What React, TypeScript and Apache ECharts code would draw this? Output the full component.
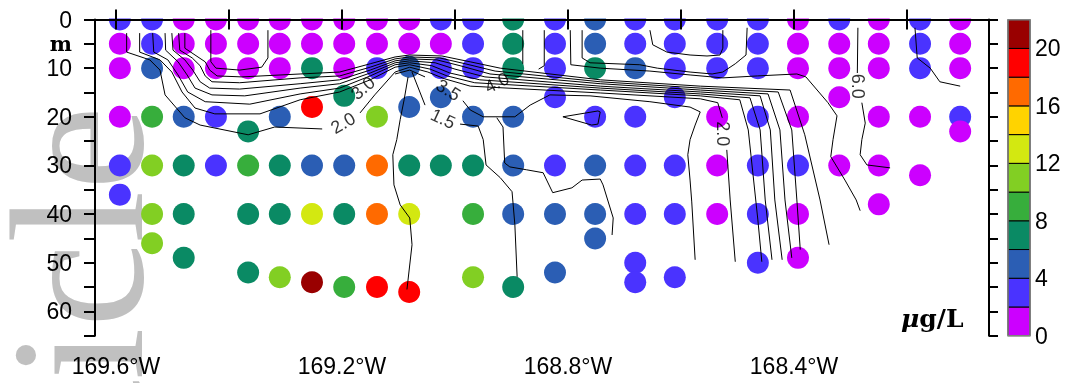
import React, { useEffect, useRef } from 'react';
import * as echarts from 'echarts';

// station longitudes (deg, negative = W)
const colLon = [
  -169.593, -169.536, -169.48, -169.423, -169.366, -169.31, -169.253, -169.196,
  -169.138, -169.081, -169.025, -168.968, -168.897, -168.823, -168.752, -168.681,
  -168.611, -168.536, -168.464, -168.393, -168.32, -168.25, -168.177, -168.106,
];

// [depth m, chlorophyll ug/L] per station
const colDots: number[][][] = [
  [[0, 3], [5, 1], [10, 1], [20, 1], [30, 3], [36, 3]],
  [[0, 3], [5, 3], [10, 5], [20, 9], [30, 11], [40, 11], [46, 11]],
  [[0, 1], [5, 1], [10, 1], [20, 5], [30, 7], [40, 7], [49, 7]],
  [[0, 1], [5, 1], [10, 1], [20, 3], [30, 3]],
  [[0, 1], [5, 1], [10, 1], [23, 7], [30, 9], [40, 7], [52, 7]],
  [[0, 1], [5, 1], [10, 1], [20, 5], [30, 7], [40, 7], [53, 11]],
  [[0, 1], [5, 1], [10, 7], [18, 19], [30, 5], [40, 13], [54, 21]],
  [[0, 1], [5, 1], [10, 1], [15.7, 7], [30, 5], [40, 7], [55, 9]],
  [[0, 1], [5, 1], [10, 3], [20, 11], [30, 17], [40, 17], [55, 19]],
  [[0, 1], [5, 1], [9.7, 5], [18, 5], [30, 7], [40, 13], [56, 19]],
  [[0, 3], [5, 1], [10, 3], [16, 5], [30, 7]],
  [[0, 3], [5, 3], [10, 3], [20, 5], [30, 7], [40, 9], [53, 11]],
  [[0, 7], [5, 7], [10, 7], [20, 5], [30, 5], [40, 5], [55, 7]],
  [[0, 3], [5, 3], [10, 3], [16, 3], [30, 3], [40, 5], [52, 5]],
  [[0, 5], [5, 5], [10, 7], [20, 3], [30, 5], [40, 5], [45, 5]],
  [[0, 3], [5, 3], [10, 5], [20, 3], [30, 3], [40, 3], [50, 3], [54, 3]],
  [[0, 3], [5, 3], [10, 3], [16, 3], [30, 3], [40, 3], [53, 3]],
  [[0, 3], [5, 3], [10, 3], [20, 1], [30, 1], [40, 1]],
  [[0, 3], [5, 3], [10, 3], [20, 3], [30, 3], [40, 3], [50, 3]],
  [[0, 1], [5, 1], [10, 1], [20, 1], [30, 3], [40, 1], [49, 1]],
  [[0, 3], [5, 1], [10, 1], [16, 1], [30, 1]],
  [[0, 1], [5, 1], [10, 1], [20, 1], [30, 1], [38, 1]],
  [[0, 3], [5, 3], [10, 3], [20, 1], [32, 1]],
  [[0, 1], [5, 1], [10, 1], [20, 3], [23, 1]],
];

const binColors = [
  '#CC00FF', '#4A33FF', '#2B5EB4', '#0A8A64', '#37AE3C', '#82CF23',
  '#D3E811', '#FFD300', '#FF6A00', '#FF0000', '#990000',
];
const binLows = [0, 2, 4, 6, 8, 10, 12, 14, 16, 18, 20];
const binStep = 2;
const colorbarLabels = [0, 4, 8, 12, 16, 20];

const lonTicks = [-169.6, -169.4, -169.2, -169.0, -168.8, -168.6, -168.4, -168.2];
const lonLabels = [-169.6, -169.2, -168.8, -168.4];

// contour polylines [lon, depth]
const contours: number[][][] = [
  [[-169.581, 2.8], [-169.581, 6.7], [-169.54, 8.3], [-169.522, 10.4], [-169.513, 15.5], [-169.478, 20.2], [-169.451, 21.7], [-169.366, 23.7], [-169.319, 22.1], [-169.235, 22.5]],
  [[-169.168, 19.2], [-169.142, 15.5], [-169.106, 10.8], [-169.08, 9.8], [-169.048, 10.8], [-169.018, 12.2], [-168.973, 13.7], [-168.743, 15.1], [-168.566, 16.3], [-168.535, 17.1], [-168.527, 20.2]],
  [[-168.519, 26.8], [-168.513, 37.1], [-168.504, 49.8]],
  [[-169.106, 11.2], [-169.08, 10.4], [-169.053, 11.8]],
  [[-168.986, 16.7], [-168.973, 18.6], [-168.95, 20.0], [-168.894, 20.0], [-168.867, 17.6], [-168.832, 15.5], [-168.761, 15.7], [-168.655, 16.9], [-168.584, 18.0], [-168.566, 19.0], [-168.575, 21.7], [-168.584, 24.7], [-168.588, 27.8], [-168.584, 33.0], [-168.581, 37.5], [-168.575, 49.4]],
  [[-169.558, 2.8], [-169.558, 6.7], [-169.522, 8.3], [-169.501, 10.8], [-169.483, 14.9], [-169.46, 18.2], [-169.425, 19.4], [-169.345, 19.4], [-169.274, 16.5], [-169.204, 14.9], [-169.15, 12.4], [-169.106, 9.8], [-169.08, 9.3], [-169.044, 10.2], [-169.014, 11.6], [-168.965, 13.0], [-168.743, 14.5], [-168.566, 15.7], [-168.496, 16.5], [-168.481, 22.7], [-168.464, 41.2], [-168.457, 49.8]],
  [[-169.535, 2.8], [-169.533, 6.7], [-169.508, 8.3], [-169.49, 11.4], [-169.473, 14.9], [-169.442, 16.9], [-169.363, 17.4], [-169.274, 15.3], [-169.204, 14.1], [-169.15, 11.6], [-169.106, 9.3], [-169.08, 8.9], [-169.041, 9.5], [-169.009, 11.0], [-168.956, 12.4], [-168.743, 14.1], [-168.566, 15.3], [-168.478, 16.1], [-168.46, 22.7], [-168.451, 37.1], [-168.439, 49.4]],
  [[-169.513, 2.8], [-169.512, 6.3], [-169.49, 8.7], [-169.474, 11.4], [-169.46, 14.1], [-169.43, 15.5], [-169.372, 15.7], [-169.274, 14.1], [-169.204, 13.2], [-169.15, 11.0], [-169.106, 8.9], [-169.08, 8.5], [-169.035, 8.9], [-169.0, 10.2], [-168.947, 11.8], [-168.743, 13.7], [-168.566, 14.9], [-168.46, 15.7], [-168.442, 22.7], [-168.434, 37.1], [-168.421, 49.4]],
  [[-169.501, 2.8], [-169.499, 6.3], [-169.478, 8.3], [-169.464, 10.4], [-169.451, 12.8], [-169.434, 14.1], [-169.381, 14.3], [-169.274, 13.2], [-169.204, 12.4], [-169.15, 10.4], [-169.106, 8.5], [-169.08, 8.1], [-169.032, 8.3], [-168.991, 9.5], [-168.938, 11.2], [-168.743, 13.2], [-168.566, 14.5], [-168.446, 15.3], [-168.425, 22.7], [-168.416, 37.1], [-168.404, 49.0]],
  [[-169.489, 2.8], [-169.487, 6.3], [-169.465, 7.9], [-169.451, 9.5], [-169.442, 11.6], [-169.43, 12.8], [-169.381, 13.0], [-169.274, 12.0], [-169.204, 11.6], [-169.15, 9.8], [-169.106, 8.1], [-169.08, 7.7], [-169.027, 7.9], [-168.982, 9.1], [-168.929, 10.6], [-168.743, 12.8], [-168.566, 14.1], [-168.428, 14.9], [-168.404, 22.7], [-168.395, 37.1], [-168.389, 47.3]],
  [[-169.478, 2.8], [-169.478, 5.9], [-169.46, 7.3], [-169.442, 8.7], [-169.434, 10.4], [-169.421, 11.6], [-169.377, 11.8], [-169.274, 11.2], [-169.204, 10.8], [-169.15, 9.1], [-169.106, 7.7], [-169.08, 7.3], [-169.023, 7.5], [-168.973, 8.7], [-168.92, 10.0], [-168.743, 12.4], [-168.566, 13.7], [-168.407, 14.5], [-168.381, 23.7], [-168.354, 37.1], [-168.338, 46.3]],
  [[-169.432, 2.2], [-169.432, 8.7], [-169.423, 10.0], [-169.381, 10.4], [-169.342, 9.8], [-169.331, 7.9], [-169.331, 2.2]],
  [[-169.083, 11.8], [-169.09, 16.5], [-169.097, 20.6], [-169.103, 24.7], [-169.11, 27.8], [-169.108, 34.0], [-169.097, 38.1], [-169.08, 40.8], [-169.076, 46.3], [-169.085, 55.5]],
  [[-169.076, 10.8], [-169.053, 17.6]],
  [[-168.991, 21.5], [-168.959, 21.9], [-168.95, 24.7], [-168.945, 29.9], [-168.92, 32.5], [-168.899, 35.4], [-168.894, 42.2], [-168.89, 52.9]],
  [[-168.926, 20.2], [-168.915, 22.1], [-168.912, 29.5], [-168.903, 30.3], [-168.873, 30.9], [-168.844, 31.5], [-168.827, 35.6], [-168.793, 34.6], [-168.775, 33.0], [-168.743, 32.8], [-168.738, 34.0], [-168.72, 40.8], [-168.722, 44.3]],
  [[-168.809, 20.0], [-168.747, 18.8], [-168.743, 19.0], [-168.747, 21.5], [-168.758, 21.7], [-168.809, 20.0]],
  [[-168.655, 2.2], [-168.65, 5.2], [-168.625, 6.7], [-168.584, 7.3], [-168.554, 7.5], [-168.531, 7.3], [-168.526, 5.9], [-168.526, 2.2]],
  [[-168.483, 1.7], [-168.485, 7.3], [-168.504, 9.1], [-168.526, 10.8], [-168.545, 11.2], [-168.584, 10.8], [-168.642, 10.0], [-168.673, 9.3], [-168.761, 8.9], [-168.775, 7.9], [-168.775, 2.2]],
  [[-168.796, 2.2], [-168.795, 9.3], [-168.743, 10.0], [-168.655, 10.6], [-168.584, 11.4], [-168.526, 12.0], [-168.465, 11.6], [-168.395, 11.2], [-168.379, 11.8], [-168.34, 17.1], [-168.324, 19.8], [-168.331, 24.7], [-168.335, 28.2], [-168.31, 33.0], [-168.29, 37.1], [-168.283, 39.3]],
  [[-168.287, 1.7], [-168.288, 11.0]],
  [[-168.28, 17.1], [-168.274, 21.3], [-168.28, 24.7], [-168.283, 27.8], [-168.271, 29.9], [-168.23, 30.5]],
  [[-168.186, 1.7], [-168.182, 7.9], [-168.159, 10.0], [-168.142, 12.8], [-168.106, 13.7]],
  [[-168.88, 2.2], [-168.88, 9.1]],
  [[-168.842, 2.2], [-168.842, 9.5], [-168.852, 10.2]],
];

const contourLabelLon = [-169.198, -169.163, -169.012, -169.021, -168.926, -168.526, -168.287];
const contourLabelDepth = [21.3, 14.1, 14.5, 20.4, 13.0, 23.5, 13.7];
const contourLabelText = ['2.0', '3.0', '3.5', '1.5', '4.0', '2.0', '6.0'];
const contourLabelRot = [30, 40, -32, -25, 27, -90, -90];

export default function App() {
  const ref = useRef<HTMLDivElement>(null);
  useEffect(() => {
    const chart = echarts.init(ref.current!, null, { renderer: 'svg' });
    const points: number[][] = [];
    colLon.forEach((lon, i) => colDots[i].forEach(([d, v]) => points.push([lon, d, v])));
    const axisLine = { show: true, lineStyle: { color: '#000', width: 2 } };
    const sans = 'Liberation Sans';
    const option: any = {
      animation: false,
      grid: [
        { left: 95, right: 79, top: 19.5, bottom: 47.3 },
        { left: 1008, width: 22, top: 19.7, bottom: 47.3 },
      ],
      xAxis: [
        {
          gridIndex: 0, type: 'value', min: -169.637, max: -168.055, position: 'bottom', z: 10,
          axisLine, splitLine: { show: false },
          axisTick: { show: true, customValues: lonTicks, length: 10, lineStyle: { color: '#000', width: 2 } },
          axisLabel: {
            customValues: lonLabels, margin: 19, color: '#000', fontFamily: sans, fontSize: 23,
            formatter: (v: number) => `${Math.abs(v).toFixed(1)}°W`,
          },
        },
        {
          gridIndex: 0, type: 'value', min: -169.637, max: -168.055, position: 'top', z: 10,
          axisLine, splitLine: { show: false },
          axisTick: { show: true, customValues: lonTicks, length: 10, lineStyle: { color: '#000', width: 2 } },
          axisLabel: { show: false },
        },
        { gridIndex: 1, type: 'value', min: 0, max: 1, show: false },
      ],
      yAxis: [
        {
          gridIndex: 0, type: 'value', inverse: true, min: 0, max: 65, interval: 5, position: 'left', z: 10,
          axisLine, splitLine: { show: false },
          axisTick: { show: true, length: 11, lineStyle: { color: '#000', width: 2 } },
          axisLabel: {
            margin: 23, color: '#000', fontFamily: sans, fontSize: 23,
            formatter: (v: number) => (v === 5 ? '{m|m}' : v % 10 === 0 && v <= 60 ? String(v) : ''),
            rich: { m: { fontFamily: 'DejaVu Serif', fontWeight: 'bold', fontSize: 21, color: '#000' } },
          },
        },
        {
          gridIndex: 0, type: 'value', inverse: true, min: 0, max: 65, interval: 5, position: 'right', z: 10,
          axisLine, splitLine: { show: false },
          axisTick: { show: true, length: 9, lineStyle: { color: '#000', width: 2 } },
          axisLabel: { show: false },
        },
        {
          gridIndex: 1, type: 'value', min: 0, max: 22, position: 'right',
          axisLine: { show: false }, axisTick: { show: false }, splitLine: { show: false },
          axisLabel: { customValues: colorbarLabels, margin: 5, color: '#000', fontFamily: sans, fontSize: 23 },
        },
      ],
      graphic: [
        {
          type: 'text', x: 78, y: 106, rotation: Math.PI / 2, z: -1, silent: true,
          style: {
            text: 'Article', fill: '#C0C0C0', fontSize: 190, fontFamily: 'Liberation Serif',
            fontWeight: 'normal',
            textAlign: 'right', textVerticalAlign: 'middle', align: 'right', verticalAlign: 'middle',
          },
        },
        { type: 'rect', z: 3, silent: true, shape: { x: 90, y: 0, width: 905, height: 18.5 }, style: { fill: '#fff' } },
        {
          type: 'text', x: 901, y: 318, z: 6, silent: true,
          style: {
            text: '{mu|μ}{t|g/L}', verticalAlign: 'middle', textVerticalAlign: 'middle',
            rich: {
              mu: { fontFamily: 'DejaVu Serif', fontStyle: 'italic', fontWeight: 'bold', fontSize: 25, fill: '#000', color: '#000' },
              t: { fontFamily: 'DejaVu Serif', fontWeight: 'bold', fontSize: 25, fill: '#000', color: '#000' },
            },
          },
        },
      ],
      series: [
        {
          type: 'scatter', xAxisIndex: 0, yAxisIndex: 0, z: 2, silent: true,
          symbolSize: 22, data: points,
          itemStyle: { opacity: 1, color: (p: any) => binColors[Math.min(10, Math.floor(p.value[2] / binStep))] },
        },
        {
          type: 'lines', coordinateSystem: 'cartesian2d', xAxisIndex: 0, yAxisIndex: 0, polyline: true, z: 4, silent: true,
          lineStyle: { color: '#000', width: 1, opacity: 1 },
          data: contours.map((c) => ({ coords: c })),
        },
        {
          type: 'scatter', xAxisIndex: 0, yAxisIndex: 0, z: 5, silent: true, symbolSize: 1,
          itemStyle: { color: 'rgba(0,0,0,0)' },
          label: { show: true, position: 'inside', formatter: '{b}', color: '#000', fontFamily: sans, fontSize: 18 },
          data: contourLabelText.map((t, i) => ({
            name: t, value: [contourLabelLon[i], contourLabelDepth[i]], label: { rotate: contourLabelRot[i] },
          })),
        },
        {
          type: 'custom', xAxisIndex: 2, yAxisIndex: 2, silent: true,
          data: binLows.map((lo, i) => [lo, lo + binStep, i]),
          renderItem: (params: any, api: any) => {
            const lo = api.value(0), hi = api.value(1), idx = api.value(2);
            const p1 = api.coord([0, hi]);
            const p2 = api.coord([1, lo]);
            return {
              type: 'rect',
              shape: { x: p1[0], y: p1[1], width: p2[0] - p1[0], height: p2[1] - p1[1] },
              style: { fill: binColors[idx], stroke: '#000', lineWidth: 1 },
            };
          },
        },
        {
          type: 'custom', xAxisIndex: 2, yAxisIndex: 2, silent: true, z: 3,
          data: [[0, 22]],
          renderItem: (params: any, api: any) => {
            const p1 = api.coord([0, api.value(1)]);
            const p2 = api.coord([1, api.value(0)]);
            return {
              type: 'rect',
              shape: { x: p1[0], y: p1[1], width: p2[0] - p1[0], height: p2[1] - p1[1] },
              style: { fill: 'none', stroke: '#808080', lineWidth: 1.5 },
            };
          },
        },
      ],
    };
    chart.setOption(option);
    return () => chart.dispose();
  }, []);
  return <div ref={ref} style={{ position: 'fixed', left: 0, top: 0, width: 1068, height: 383 }} />;
}
